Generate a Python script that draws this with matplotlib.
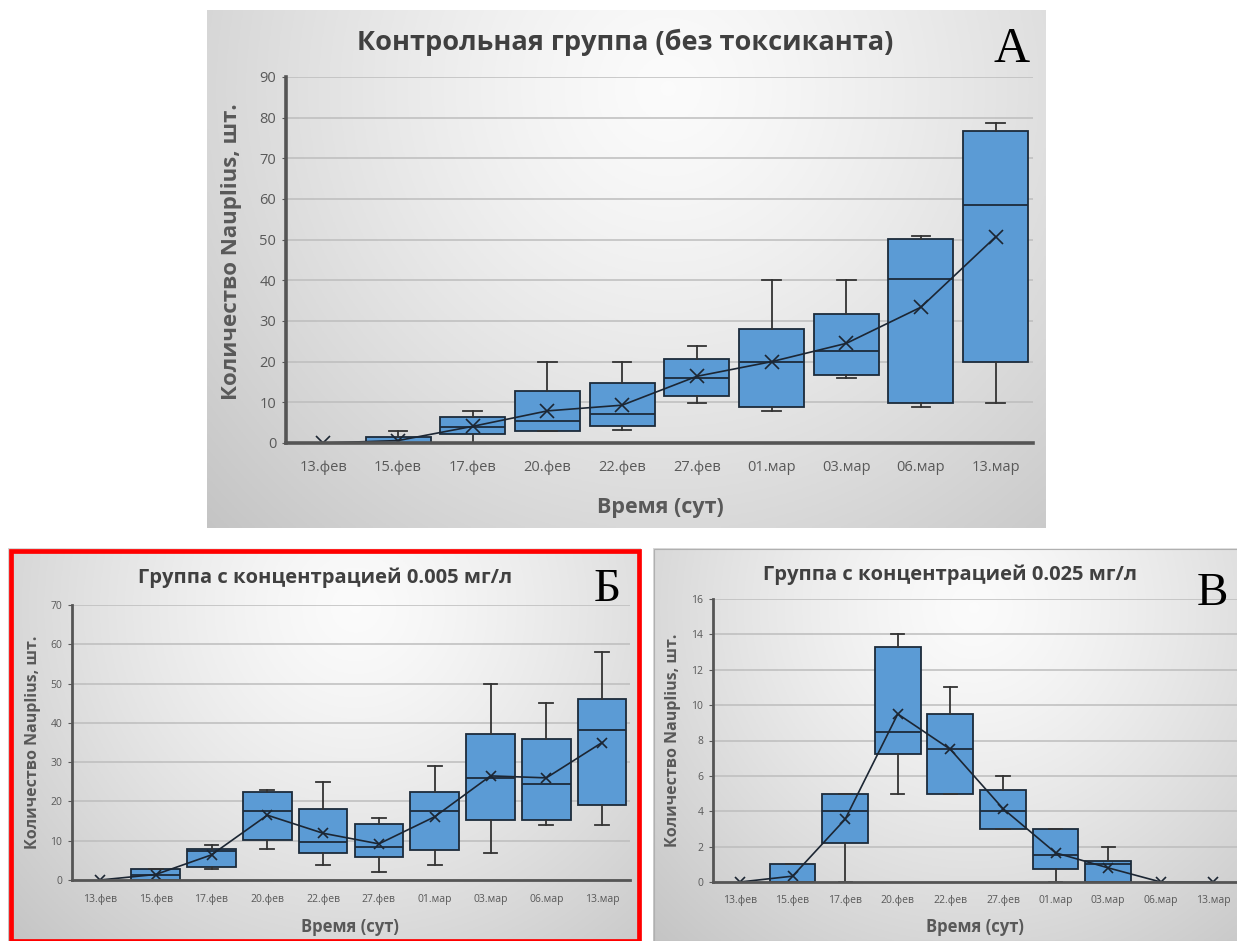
import matplotlib.pyplot as plt
import numpy as np
from matplotlib.patches import Rectangle

W, H = 1237, 941

dates = ["13.фев", "15.фев", "17.фев", "20.фев", "22.фев",
         "27.фев", "01.мар", "03.мар", "06.мар", "13.мар"]

# Контрольная группа (без токсиканта)
a_min = [0, 0, 0, 2.9, 3.1, 9.8, 7.8, 16.0, 8.8, 9.8]
a_q1 = [0, 0, 2.25, 2.9, 4.3, 11.5, 8.8, 16.7, 9.8, 19.8]
a_med = [0, 0, 4.0, 5.4, 7.25, 16.0, 19.8, 22.5, 40.3, 58.5]
a_q3 = [0, 1.5, 6.4, 12.7, 14.8, 20.7, 28.0, 31.7, 50.2, 76.8]
a_max = [0, 2.9, 7.75, 20, 20, 23.9, 40, 40, 51.0, 78.8]
a_mean = [0, 0.6, 4.1, 7.9, 9.3, 16.4, 20.0, 24.5, 33.4, 50.7]

# 0.005 мг/л
b_min = [0, 0, 2.7, 7.9, 3.9, 2.0, 3.9, 6.8, 14.1, 14.1]
b_q1 = [0, 0, 3.4, 10.3, 6.8, 5.8, 7.6, 15.2, 15.4, 19.1]
b_med = [0, 1.4, 7.3, 17.5, 9.6, 8.5, 17.5, 26.0, 24.5, 38.1]
b_q3 = [0, 2.8, 8.0, 22.4, 18.2, 14.2, 22.3, 37.2, 35.9, 46.1]
b_max = [0, 2.8, 8.9, 22.9, 25.0, 15.9, 29.0, 50, 45.0, 58.0]
b_mean = [0, 1.4, 6.4, 16.5, 11.9, 9.2, 16.1, 26.5, 26.0, 35.0]

# 0.025 мг/л
c_min = [0, 0, 0, 5, 5, 3, 0, 0, 0, 0]
c_q1 = [0, 0, 2.23, 7.26, 5, 3, 0.75, 0, 0, 0]
c_med = [0, 0, 4, 8.47, 7.5, 4, 1.5, 1.0, 0, 0]
c_q3 = [0, 1, 5, 13.26, 9.5, 5.2, 3, 1.2, 0, 0]
c_max = [0, 1, 5, 14, 11, 6, 3, 2, 0, 0]
c_mean = [0, 0.33, 3.55, 9.5, 7.5, 4.15, 1.65, 0.8, 0, 0]

FONT = ["Open Sans", "DejaVu Sans"]
SERIF = ["Liberation Serif", "DejaVu Serif"]
plt.rcParams["font.family"] = FONT

fig = plt.figure(figsize=(W / 100, H / 100), dpi=100)


def rect(x0, y0, x1, y1):
    return [x0 / W, 1 - y1 / H, (x1 - x0) / W, (y1 - y0) / H]


def ftext(x, y, s, **kw):
    fig.text(x / W, 1 - y / H, s, ha="center", va="center", **kw)


def backdrop(x0, y0, x1, y1, cx=0.55, cy=0.15, lo=0.77, hi=0.985):
    bg = fig.add_axes(rect(x0, y0, x1, y1), zorder=0)
    w, h = x1 - x0, y1 - y0
    yy, xx = np.mgrid[0:1:200j, 0:1:300j]
    r = np.hypot((xx - cx) * w, (yy - cy) * h)
    r = r / r.max()
    v = hi - (hi - lo) * r ** 1.3
    bg.imshow(np.dstack([v, v, v]), extent=(0, 1, 0, 1), aspect="auto",
              origin="upper")
    bg.axis("off")
    return bg


def boxpanel(box, ylim, step, xlim, mins, q1s, meds, q3s, maxs, means,
             tick_fs, spine_w, xpad):
    ax = fig.add_axes(rect(*box), zorder=2)
    ax.set_facecolor("none")
    pos = [i for i in range(len(dates)) if maxs[i] > 0]
    stats = [dict(whislo=mins[i], q1=q1s[i], med=meds[i], q3=q3s[i],
                  whishi=maxs[i], fliers=[]) for i in pos]
    ax.bxp(stats, positions=pos, widths=0.87, capwidths=0.25,
           patch_artist=True, showfliers=False, manage_ticks=False,
           boxprops=dict(facecolor="#5b9bd5", edgecolor="#1c2b3a", lw=1.3),
           medianprops=dict(color="#1c2b3a", lw=1.3),
           whiskerprops=dict(color="#333333", lw=1.3),
           capprops=dict(color="#333333", lw=1.3))
    ax.plot(range(len(dates)), means, color="#1c2633", lw=1.2, marker="x",
            ms=tick_fs * 0.95, mew=1.2, zorder=5)
    ax.set_xlim(*xlim)
    ax.set_ylim(*ylim)
    ax.set_yticks(np.arange(ylim[0], ylim[1] + step / 2, step))
    ax.set_xticks(range(len(dates)))
    ax.set_xticklabels(dates)
    ax.tick_params(axis="x", length=0, pad=xpad, labelsize=tick_fs,
                   labelcolor="#595959")
    ax.tick_params(axis="y", length=3, pad=4, labelsize=tick_fs,
                   labelcolor="#595959", color="#595959")
    ax.yaxis.grid(True, color="#bdbdbd", lw=1.1)
    ax.set_axisbelow(True)
    for s in ("top", "right"):
        ax.spines[s].set_visible(False)
    for s in ("left", "bottom"):
        ax.spines[s].set_color("#555555")
        ax.spines[s].set_linewidth(spine_w)
        ax.spines[s].set_zorder(6)
    return ax


# Панель А
backdrop(207, 10, 1046, 528)
boxpanel((286, 77, 1033, 443), (0, 90), 10, (-0.5, 9.5),
         a_min, a_q1, a_med, a_q3, a_max, a_mean, 10.5, 2.6, 12)
ftext(625, 42, "Контрольная группа (без токсиканта)", fontsize=19.5,
      fontweight="bold", color="#404040")
ftext(1012, 50, "А", fontsize=36, family=SERIF, color="black")
ftext(232, 252, "Количество Nauplius, шт.", fontsize=16, fontweight="bold",
      color="#595959", rotation=90)
ftext(660, 508, "Время (сут)", fontsize=15.5, fontweight="bold",
      color="#595959")

# Панель Б
backdrop(8, 548, 641, 941)
boxpanel((72, 605, 630, 880), (0, 70), 10, (-0.5, 9.5),
         b_min, b_q1, b_med, b_q3, b_max, b_mean, 7.5, 2.0, 10)
ftext(325, 578, "Группа с концентрацией 0.005 мг/л", fontsize=14.5,
      fontweight="bold", color="#404040")
ftext(607, 590, "Б", fontsize=34, family=SERIF, color="black")
ftext(33, 742, "Количество Nauplius, шт.", fontsize=11.5, fontweight="bold",
      color="#595959", rotation=90)
ftext(350, 927, "Время (сут)", fontsize=12, fontweight="bold",
      color="#595959")
fig.patches.append(Rectangle((10.5 / W, 0), 628 / W, 1 - 550.5 / H,
                             transform=fig.transFigure, fill=False,
                             edgecolor="#ff0000", lw=3.4, zorder=10))

# Панель В
backdrop(653, 548, 1237, 941)
boxpanel((713, 599, 1237, 882), (0, 16), 2, (-0.513, 9.45),
         c_min, c_q1, c_med, c_q3, c_max, c_mean, 7.5, 2.0, 9)
ftext(950, 575, "Группа с концентрацией 0.025 мг/л", fontsize=14.5,
      fontweight="bold", color="#404040")
ftext(1212, 594, "В", fontsize=34, family=SERIF, color="black")
ftext(673, 740, "Количество Nauplius, шт.", fontsize=11.5, fontweight="bold",
      color="#595959", rotation=90)
ftext(975, 927, "Время (сут)", fontsize=12, fontweight="bold",
      color="#595959")
fig.patches.append(Rectangle((653.5 / W, 0), 584 / W, 1 - 548.5 / H,
                             transform=fig.transFigure, fill=False,
                             edgecolor="#b0b0b0", lw=0.8, zorder=10))

fig.savefig("out.png", dpi=100)
